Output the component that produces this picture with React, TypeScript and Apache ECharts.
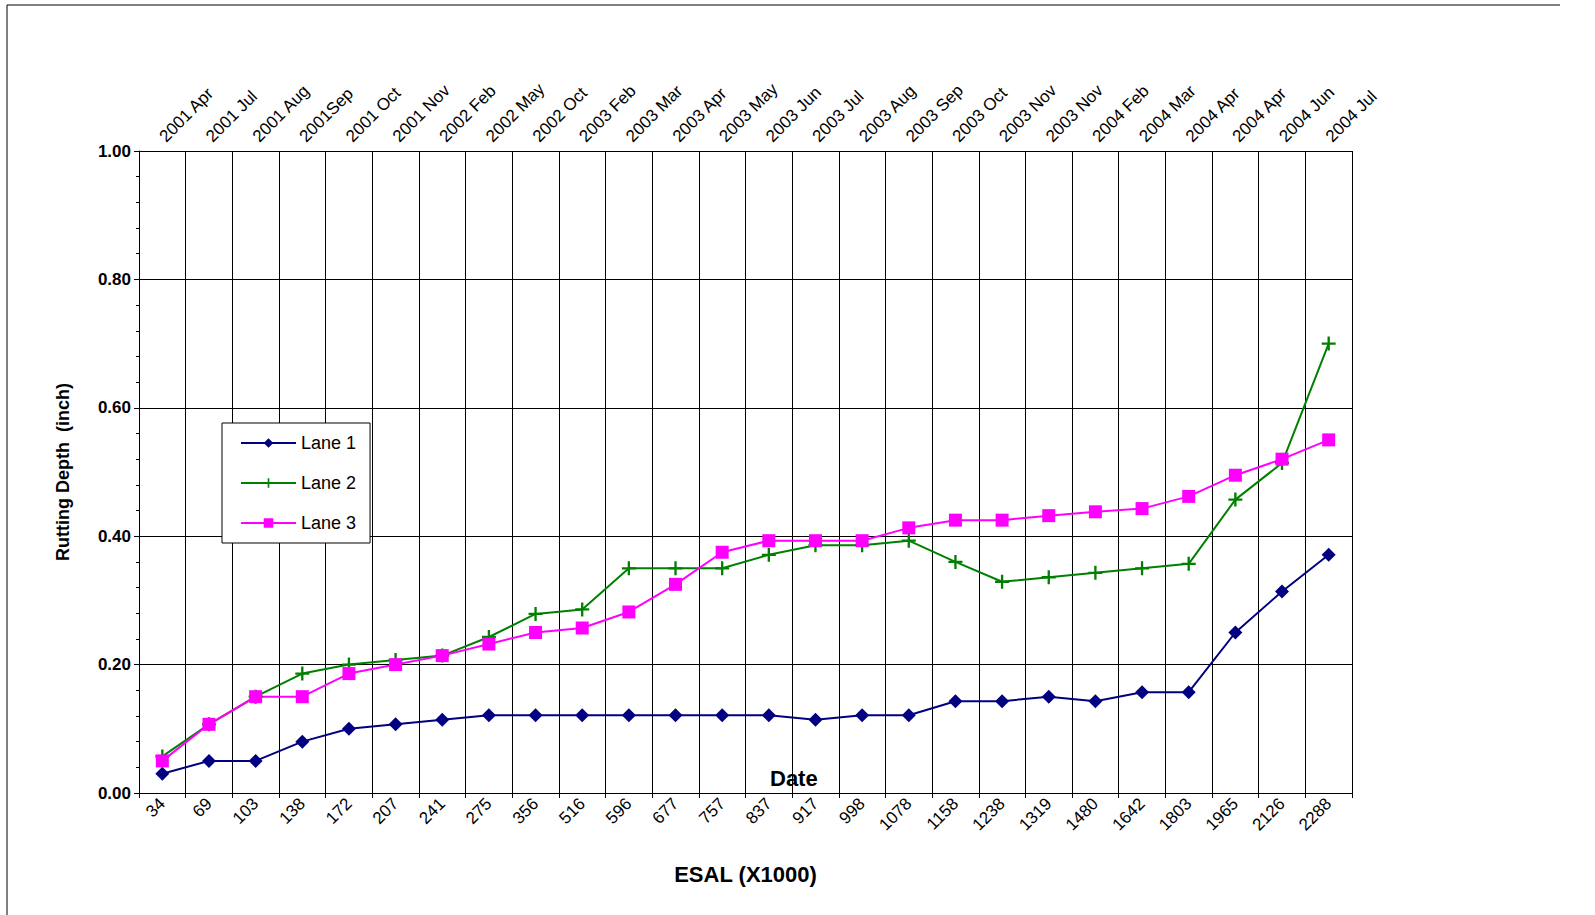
import { useEffect, useRef } from 'react';
import * as echarts from 'echarts';

const esal = ['34','69','103','138','172','207','241','275','356','516','596','677','757','837','917','998','1078','1158','1238','1319','1480','1642','1803','1965','2126','2288'];
const dates = ['2001 Apr','2001 Jul','2001 Aug','2001Sep','2001 Oct','2001 Nov','2002 Feb','2002 May','2002 Oct','2003 Feb','2003 Mar','2003 Apr','2003 May','2003 Jun','2003 Jul','2003 Aug','2003 Sep','2003 Oct','2003 Nov','2003 Nov','2004 Feb','2004 Mar','2004 Apr','2004 Apr','2004 Jun','2004 Jul'];
const lane1 = [0.03,0.05,0.05,0.08,0.1,0.107,0.114,0.121,0.121,0.121,0.121,0.121,0.121,0.121,0.114,0.121,0.121,0.143,0.143,0.15,0.143,0.157,0.157,0.25,0.314,0.371];
const lane2 = [0.057,0.107,0.15,0.186,0.2,0.207,0.214,0.243,0.279,0.286,0.35,0.35,0.35,0.371,0.386,0.386,0.393,0.36,0.329,0.336,0.343,0.35,0.357,0.457,0.514,0.7];
const lane3 = [0.05,0.107,0.15,0.15,0.186,0.2,0.214,0.232,0.25,0.257,0.282,0.325,0.375,0.393,0.393,0.393,0.413,0.425,0.425,0.432,0.438,0.443,0.462,0.495,0.52,0.55];

const FONT = 'Liberation Sans, Arial, sans-serif';

export default function App() {
  const ref = useRef<HTMLDivElement>(null);
  useEffect(() => {
    if (!ref.current) return;
    const chart = echarts.init(ref.current, undefined, { renderer: 'svg' });
    const catAxis = (data: string[], position: 'top' | 'bottom') => ({
      type: 'category',
      data,
      position,
      boundaryGap: true,
      axisLine: { lineStyle: { color: '#000' } },
      axisTick: { show: true, inside: position === 'top', length: 5, lineStyle: { color: '#000' } },
      splitLine: { show: position === 'bottom', lineStyle: { color: '#000', width: 1 } },
      axisLabel: position === 'top'
        ? { rotate: -45, interval: 0, color: '#000', fontFamily: FONT, fontSize: 17, margin: 12, align: 'left', verticalAlign: 'middle' }
        : { rotate: 45, interval: 0, color: '#000', fontFamily: FONT, fontSize: 17, margin: 8 },
    });
    chart.setOption({
      animation: false,
      textStyle: { fontFamily: FONT },
      grid: { left: 139, right: 243, top: 151, bottom: 122 },
      xAxis: [
        { ...catAxis(esal, 'bottom'), name: 'ESAL (X1000)', nameLocation: 'middle', nameGap: 70,
          nameTextStyle: { fontSize: 22, fontWeight: 'bold', color: '#000', fontFamily: FONT } },
        catAxis(dates, 'top'),
      ],
      yAxis: {
        type: 'value', min: 0, max: 1, interval: 0.2,
        name: 'Rutting Depth  (inch)', nameLocation: 'middle', nameGap: 67,
        nameTextStyle: { fontSize: 18, fontWeight: 'bold', color: '#000', fontFamily: FONT },
        axisLine: { show: true, lineStyle: { color: '#000' } },
        axisTick: { show: true, length: 5, lineStyle: { color: '#000' } },
        minorTick: { show: true, splitNumber: 5, length: 3, lineStyle: { color: '#000' } },
        splitLine: { lineStyle: { color: '#000' } },
        axisLabel: { formatter: (v: number) => v.toFixed(2), color: '#000', fontWeight: 'bold', fontSize: 17, fontFamily: FONT },
      },
      legend: {
        left: 222, top: 423, width: 148, orient: 'vertical', itemGap: 22, itemWidth: 55, itemHeight: 12,
        padding: [11, 14, 11, 18], borderColor: '#000', borderWidth: 1, backgroundColor: '#fff',
        textStyle: { fontSize: 18, color: '#000', fontFamily: FONT },
        data: ['Lane 1', 'Lane 2', 'Lane 3'],
      },
      graphic: [
        { type: 'line', shape: { x1: 7, y1: 5, x2: 1560, y2: 5 }, style: { stroke: '#000', lineWidth: 1 } },
        { type: 'line', shape: { x1: 7, y1: 5, x2: 7, y2: 915 }, style: { stroke: '#000', lineWidth: 1 } },
        { type: 'text', left: 770, top: 767, style: { text: 'Date', font: `bold 22px ${FONT}`, fill: '#000' } },
      ],
      series: [
        { name: 'Lane 1', type: 'line', data: lane1, symbol: 'diamond', symbolSize: 14,
          lineStyle: { color: '#000080', width: 2 }, itemStyle: { color: '#000080' } },
        { name: 'Lane 2', type: 'line', data: lane2, symbol: 'path://M5,0H7V5H12V7H7V12H5V7H0V5H5Z', symbolSize: 14,
          lineStyle: { color: '#008000', width: 2 }, itemStyle: { color: '#008000' } },
        { name: 'Lane 3', type: 'line', data: lane3, symbol: 'rect', symbolSize: 13,
          lineStyle: { color: '#ff00ff', width: 2 }, itemStyle: { color: '#ff00ff' } },
      ],
    });
    return () => chart.dispose();
  }, []);
  return <div ref={ref} style={{ position: 'absolute', left: 0, top: 0, width: 1595, height: 915, background: '#fff' }} />;
}
